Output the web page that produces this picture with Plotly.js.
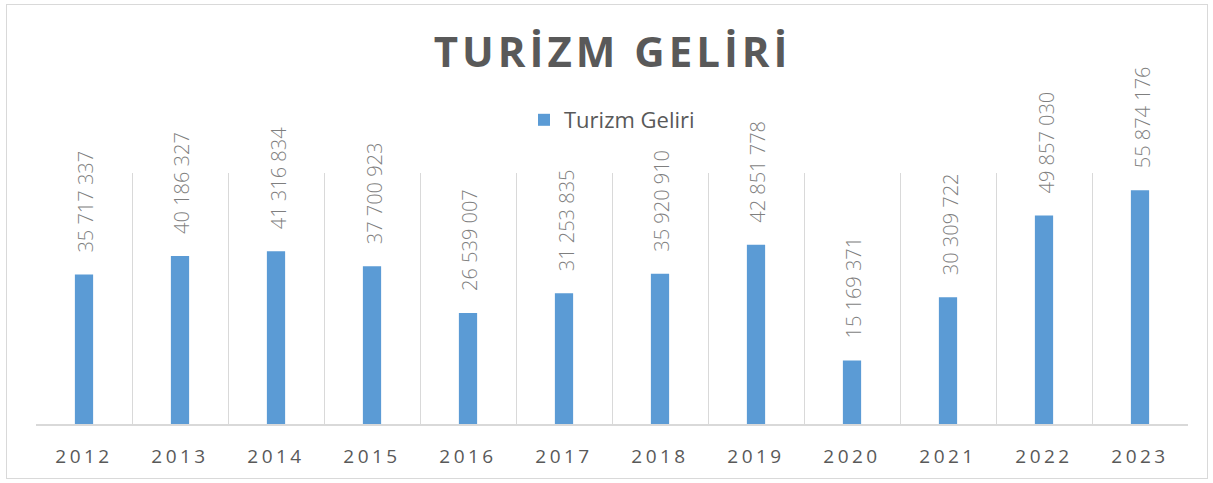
<!DOCTYPE html>
<html>
<head>
<meta charset="utf-8">
<script src="https://cdn.plot.ly/plotly-3.0.1.min.js"></script>
<style>
  html, body { margin: 0; padding: 0; background: #ffffff; }
  #wrap { position: relative; width: 1213px; height: 483px; }
  #chart { width: 1213px; height: 483px; }
  #frame { position: absolute; left: 6px; top: 4px; width: 1200px; height: 473px; border: 1px solid #d9d9d9; pointer-events: none; }
  .gtitle { letter-spacing: 4px; }
  .xtick text { letter-spacing: 3.5px; }
</style>
</head>
<body>
<div id="wrap">
  <div id="chart"></div>
  <div id="frame"></div>
</div>
<script>
const years = ['2012','2013','2014','2015','2016','2017','2018','2019','2020','2021','2022','2023'];
const revenue = [35717337, 40186327, 41316834, 37700923, 26539007, 31253835, 35920910, 42851778, 15169371, 30309722, 49857030, 55874176];
const seriesName = 'Turizm Geliri';
const chartTitle = 'TURİZM GELİRİ';

function fmt(v) {
  return String(v).replace(/\B(?=(\d{3})+(?!\d))/g, ' ');
}

const trace = {
  type: 'bar',
  x: years,
  y: revenue,
  name: seriesName,
  width: 0.19,
  marker: { color: '#5B9BD5' },
  hoverinfo: 'x+y'
};

const annotations = years.map((yr, i) => ({
  x: i,
  y: revenue[i],
  xref: 'x',
  yref: 'y',
  text: fmt(revenue[i]),
  showarrow: false,
  textangle: -90,
  xanchor: 'center',
  yanchor: 'bottom',
  yshift: 20,
  xshift: 2,
  font: { family: 'Open Sans, sans-serif', size: 20, weight: 300, color: '#7f7f7f' }
}));

const layout = {
  width: 1213,
  height: 483,
  margin: { l: 36, r: 25, t: 173, b: 59 },
  paper_bgcolor: 'rgba(0,0,0,0)',
  plot_bgcolor: 'rgba(0,0,0,0)',
  title: {
    text: '<b>' + chartTitle + '</b>',
    x: 0.505,
    xanchor: 'center',
    xref: 'container',
    y: 1 - 52 / 483,
    yref: 'container',
    yanchor: 'middle',
    font: { family: 'Open Sans, sans-serif', size: 42, color: '#595959' }
  },
  showlegend: true,
  legend: {
    orientation: 'h',
    x: 0.5,
    xanchor: 'center',
    y: (424 - 120) / 251,
    yanchor: 'middle',
    font: { family: 'Open Sans, sans-serif', size: 22, color: '#595959' },
    bgcolor: 'rgba(0,0,0,0)'
  },
  xaxis: {
    type: 'category',
    tickson: 'boundaries',
    showgrid: true,
    gridcolor: '#d9d9d9',
    gridwidth: 1,
    showline: true,
    linecolor: '#d9d9d9',
    linewidth: 2,
    ticks: '',
    ticklen: 0,
    ticklabelstandoff: 14,
    tickfont: { family: 'Open Sans, sans-serif', size: 19, color: '#595959' },
    range: [-0.5, 11.5],
    fixedrange: true
  },
  yaxis: {
    range: [0, 60000000],
    visible: false,
    showgrid: false,
    zeroline: false,
    fixedrange: true
  },
  annotations: annotations,
  bargap: 0.81
};

Plotly.newPlot('chart', [trace], layout, { displayModeBar: false, staticPlot: true });
</script>
</body>
</html>
